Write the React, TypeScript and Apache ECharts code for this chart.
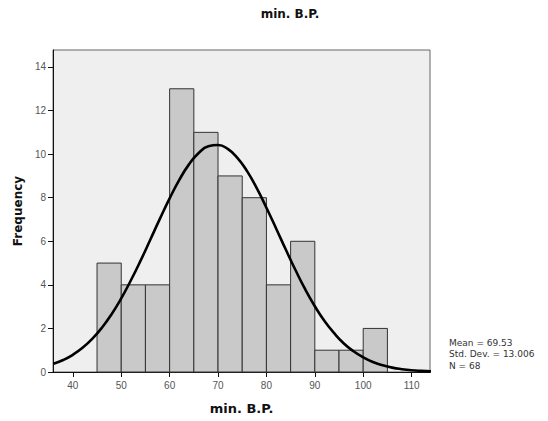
import React, { useEffect, useRef } from "react";
import * as echarts from "echarts";

const binStarts = [45, 50, 55, 60, 65, 70, 75, 80, 85, 90, 95, 100];
const binWidth = 5;
const frequencies = [5, 4, 4, 13, 11, 9, 8, 4, 6, 1, 1, 2];
const curveX = [36, 38, 40, 42, 44, 46, 48, 50, 52, 54, 56, 58, 60, 62, 64, 66, 68, 70, 72, 74, 76, 78, 80, 82, 84, 86, 88, 90, 92, 94, 96, 98, 100, 102, 104, 106, 108, 110, 112, 114];
const curveY = [0.38, 0.55, 0.79, 1.11, 1.52, 2.03, 2.65, 3.38, 4.21, 5.11, 6.07, 7.04, 7.97, 8.82, 9.53, 10.05, 10.36, 10.42, 10.24, 9.83, 9.22, 8.44, 7.54, 6.59, 5.62, 4.68, 3.80, 3.02, 2.34, 1.78, 1.31, 0.95, 0.67, 0.46, 0.31, 0.20, 0.13, 0.08, 0.05, 0.03];
const xTicks = [40, 50, 60, 70, 80, 90, 100, 110];
const yTicks = [0, 2, 4, 6, 8, 10, 12, 14];
const statsLines = ["Mean = 69.53", "Std. Dev. = 13.006", "N = 68"];

export default function App() {
  const ref = useRef<HTMLDivElement>(null);
  useEffect(() => {
    if (!ref.current) return;
    const chart = echarts.init(ref.current, null, { renderer: "svg" });
    const font = "'DejaVu Sans', sans-serif";
    const tickFont = "'Liberation Sans', Arial, sans-serif";
    chart.setOption({
      animation: false,
      title: {
        text: "min. B.P.",
        left: 285,
        top: 3,
        textAlign: "center",
        textStyle: { fontSize: 12, fontWeight: "bold", color: "#111", fontFamily: font },
      },
      grid: {
        left: 53,
        top: 50,
        right: 118,
        bottom: 49,
        show: true,
        backgroundColor: "#efefef",
        borderColor: "#666",
        borderWidth: 1,
      },
      xAxis: {
        type: "value",
        min: 35.9,
        max: 113.8,
        name: "min. B.P.",
        nameLocation: "middle",
        nameGap: 30,
        nameTextStyle: { fontSize: 13, fontWeight: "bold", color: "#111", fontFamily: font },
        axisLine: { show: true, onZero: false, lineStyle: { color: "#111", width: 1 } },
        axisTick: { show: true, length: 5, lineStyle: { color: "#111" }, customValues: xTicks },
        axisLabel: { fontSize: 10, color: "#555", fontFamily: tickFont, margin: 8, customValues: xTicks },
        splitLine: { show: false },
      },
      yAxis: {
        type: "value",
        min: 0,
        max: 14.78,
        name: "Frequency",
        nameLocation: "middle",
        nameGap: 29,
        nameTextStyle: { fontSize: 12, fontWeight: "bold", color: "#111", fontFamily: font },
        axisLine: { show: true, lineStyle: { color: "#111", width: 1 } },
        axisTick: { show: true, length: 5, lineStyle: { color: "#111" }, customValues: yTicks },
        axisLabel: { fontSize: 10, color: "#555", fontFamily: tickFont, margin: 7, customValues: yTicks },
        splitLine: { show: false },
      },
      series: [
        {
          type: "custom",
          data: binStarts.map((s, i) => [s, s + binWidth, frequencies[i]]),
          encode: { x: [0, 1], y: 2 },
          renderItem: (params: any, api: any) => {
            const p0 = api.coord([api.value(0), api.value(2)]);
            const p1 = api.coord([api.value(1), 0]);
            return {
              type: "rect",
              shape: { x: p0[0], y: p0[1], width: p1[0] - p0[0], height: p1[1] - p0[1] },
              style: { fill: "#c9c9c9", stroke: "#333", lineWidth: 1 },
            };
          },
          z: 2,
        },
        {
          type: "line",
          data: curveX.map((x, i) => [x, curveY[i]]),
          smooth: true,
          showSymbol: false,
          lineStyle: { color: "#000", width: 2.6 },
          z: 3,
        },
      ],
      graphic: statsLines.map((t, i) => ({
        type: "text",
        left: 449,
        top: 338 + i * 11.5,
        style: { text: t, fontSize: 9, fill: "#333", fontFamily: font },
      })),
    });
    return () => chart.dispose();
  }, []);
  return <div ref={ref} style={{ width: 548, height: 421, margin: -8 }} />;
}
